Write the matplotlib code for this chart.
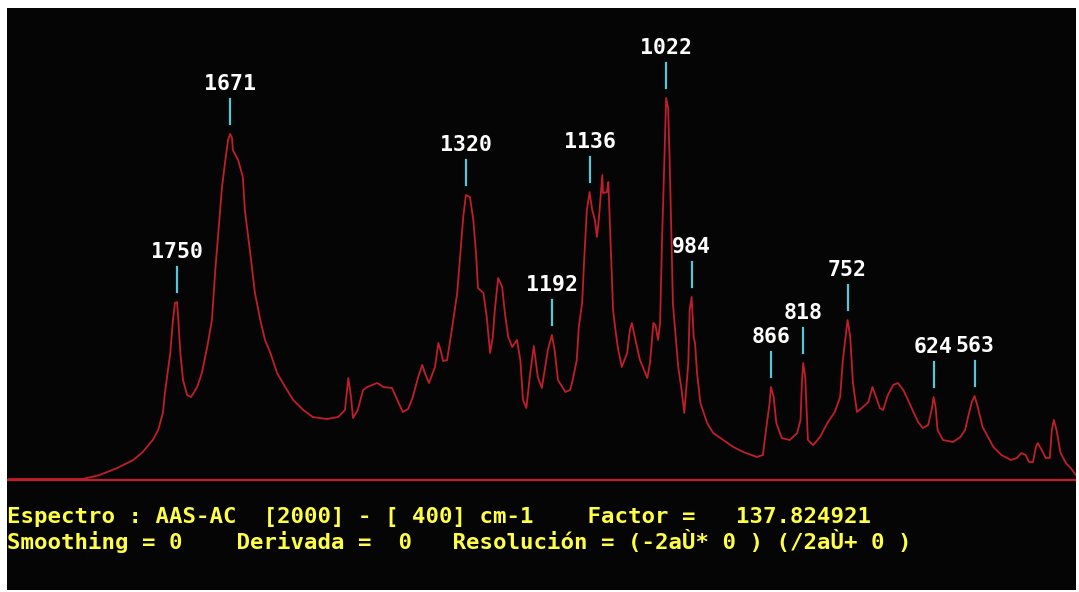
import numpy as np
import matplotlib
matplotlib.use("Agg")
import matplotlib.pyplot as plt

# IR spectrum AAS-AC, 2000 - 400 cm-1 (relative intensity)
wavenumber = [2000, 1890, 1865, 1839, 1815, 1801, 1786, 1778, 1771, 1768, 1760, 1756, 1753, 1750,
              1748, 1745, 1741, 1735, 1729, 1720, 1713, 1705, 1698, 1693, 1689, 1683, 1678, 1674,
              1671, 1668, 1667, 1659, 1652, 1649, 1641, 1634, 1626, 1619, 1611, 1601, 1589, 1577,
              1562, 1548, 1527, 1510, 1500, 1495, 1491, 1488, 1481, 1473, 1467, 1452, 1443, 1430,
              1422, 1414, 1406, 1399, 1391, 1385, 1381, 1375, 1366, 1361, 1357, 1354, 1348, 1341,
              1333, 1329, 1324, 1320, 1314, 1309, 1305, 1302, 1294, 1289, 1284, 1280, 1277, 1272,
              1266, 1262, 1257, 1251, 1244, 1239, 1235, 1230, 1225, 1219, 1213, 1207, 1198, 1192,
              1188, 1183, 1172, 1165, 1161, 1155, 1152, 1147, 1144, 1140, 1136, 1132, 1128, 1125,
              1122, 1117, 1116, 1110, 1108, 1105, 1101, 1098, 1094, 1088, 1080, 1076, 1073, 1067,
              1061, 1053, 1050, 1046, 1041, 1038, 1034, 1031, 1028, 1026, 1022, 1019, 1017, 1014,
              1012, 1009, 1004, 999, 995, 989, 987, 984, 981, 979, 976, 971, 961, 952, 937, 922,
              907, 887, 878, 872, 868, 866, 862, 858, 850, 838, 827, 822, 820, 818, 815, 811, 803,
              793, 782, 771, 763, 759, 752, 748, 744, 738, 729, 721, 715, 708, 704, 699, 692, 684,
              677, 669, 662, 654, 647, 640, 632, 626, 624, 621, 618, 610, 595, 584, 577, 573, 567,
              563, 559, 551, 543, 535, 523, 509, 500, 493, 487, 482, 476, 472, 469, 463, 457, 451,
              448, 445, 441, 435, 427, 420, 412]
intensity = [1, 1, 5, 12, 20, 28, 40, 50, 67, 87, 127, 160, 177, 178,
             160, 127, 100, 85, 83, 93, 107, 133, 160, 210, 243, 293, 320, 340,
             346, 342, 330, 320, 303, 270, 227, 187, 160, 140, 127, 107, 93, 80,
             70, 63, 61, 63, 70, 102, 83, 62, 70, 90, 93, 97, 93, 92,
             80, 68, 71, 83, 103, 115, 107, 97, 113, 137, 128, 119, 120, 150,
             187, 220, 263, 285, 283, 260, 227, 192, 187, 163, 127, 143, 170, 202,
             193, 167, 143, 133, 140, 120, 80, 72, 103, 134, 103, 92, 130, 145,
             130, 100, 88, 90, 100, 120, 153, 177, 220, 270, 288, 270, 260, 243,
             262, 305, 287, 288, 298, 243, 170, 153, 133, 113, 127, 150, 157, 138,
             120, 107, 102, 117, 157, 155, 140, 157, 243, 287, 382, 372, 325, 240,
             177, 153, 113, 90, 67, 117, 170, 183, 143, 137, 107, 77, 57, 47, 40, 33,
             28, 23, 25, 57, 77, 93, 83, 57, 42, 40, 47, 60, 97, 117, 103, 40, 35,
             43, 57, 68, 83, 120, 160, 143, 97, 68, 73, 78, 93, 80, 72, 70, 85, 95,
             97, 90, 80, 68, 58, 52, 55, 73, 83, 73, 50, 40, 38, 43, 50, 62, 78,
             84, 75, 53, 43, 33, 25, 20, 22, 27, 25, 18, 18, 32, 37, 30, 22, 22,
             50, 60, 50, 27, 17, 12, 5]

peak_labels = [1750, 1671, 1320, 1192, 1136, 1022, 984, 866, 818, 752, 624, 563]

info_line1 = "Espectro : AAS-AC  [2000] - [ 400] cm-1    Factor =   137.824921"
info_line2 = "Smoothing = 0    Derivada =  0   Resolución = (-2aÙ* 0 ) (/2aÙ+ 0 )"

RED = '#bf1e2a'
CYAN = '#5cc4d8'
YELLOW = '#ffff44'
BG = '#050505'

W, H = 1079, 592
fig = plt.figure(figsize=(W / 100, H / 100), dpi=100, facecolor='white')
ax = fig.add_axes([7 / W, 2 / H, 1069 / W, 582 / H])
ax.set_facecolor(BG)
ax.set_xlim(2003, 412)
ax.set_ylim(-110, 472)
ax.axis('off')
ax.add_patch(plt.Rectangle((0, 0), 1, 1, transform=ax.transAxes, color=BG, zorder=0))

ax.axhline(0, color=RED, lw=1.6, zorder=2)
ax.plot(wavenumber, intensity, color=RED, lw=1.3, zorder=3)

wn_sorted = np.array(wavenumber[::-1])
int_sorted = np.array(intensity[::-1])
for p in peak_labels:
    h = np.interp(p, wn_sorted, int_sorted)
    ax.plot([p, p], [h + 10, h + 35], color=CYAN, lw=1.6, zorder=3)
    ax.text(p, h + 50, str(p), color='white', fontsize=15.5, fontweight='bold',
            family='DejaVu Sans Mono', ha='center', va='center', zorder=4)

ax.text(2003, -37, info_line1, color=YELLOW, fontsize=16.1, fontweight='bold',
        family='DejaVu Sans Mono', ha='left', va='center')
ax.text(2003, -61, info_line2, color=YELLOW, fontsize=16.1, fontweight='bold',
        family='DejaVu Sans Mono', ha='left', va='center')

fig.savefig('out.png', dpi=100, facecolor='white')
